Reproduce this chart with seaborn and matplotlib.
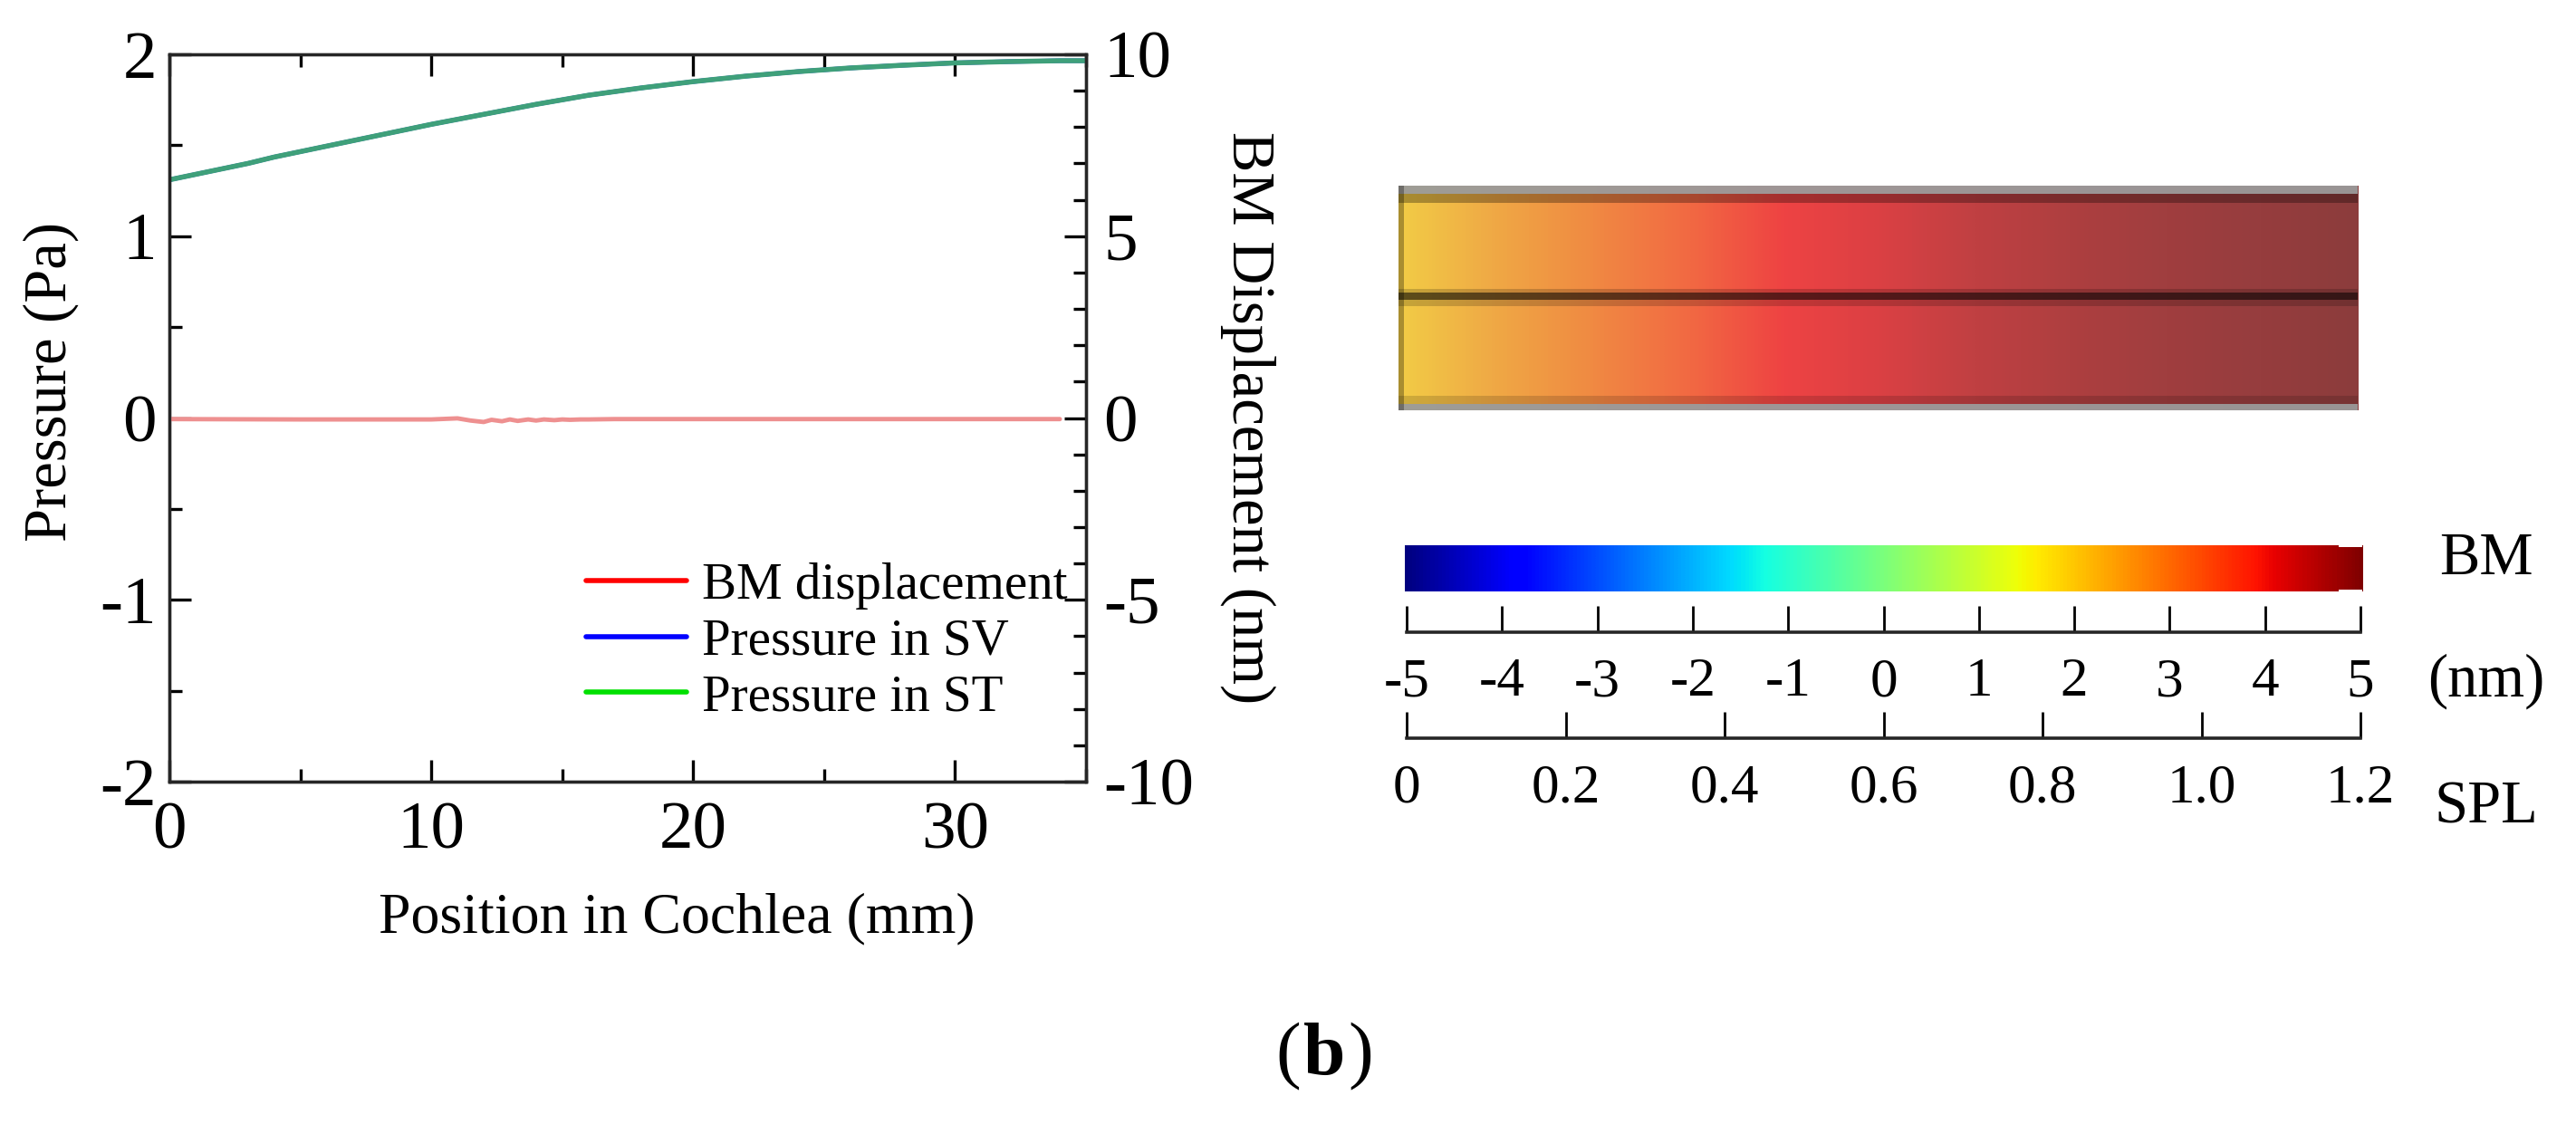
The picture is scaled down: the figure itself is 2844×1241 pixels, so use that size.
import seaborn as sns
import pandas as pd
import matplotlib.pyplot as plt
from matplotlib.colors import LinearSegmentedColormap
from matplotlib.lines import Line2D
from matplotlib.ticker import MultipleLocator

W, H = 2844, 1241

# pressure curves
position_mm = [0, 1, 2, 3, 4, 5, 6, 7, 8, 9, 10, 12, 14, 16, 18, 20, 22, 24, 26, 28, 30, 32, 34, 35]
pressure_sv = [1.31, 1.34, 1.37, 1.40, 1.435, 1.465, 1.495, 1.525, 1.555, 1.585, 1.615, 1.67, 1.725, 1.775, 1.815, 1.85, 1.88, 1.905, 1.925, 1.94, 1.953, 1.96, 1.965, 1.965]
pressure_st = [1.31, 1.34, 1.37, 1.40, 1.435, 1.465, 1.495, 1.525, 1.555, 1.585, 1.615, 1.67, 1.725, 1.775, 1.815, 1.85, 1.88, 1.905, 1.925, 1.94, 1.953, 1.96, 1.965, 1.965]

# BM displacement, flat apart from a small ripple after 11 mm
bm_pos = [0, 5, 10, 11, 11.5, 12, 12.3, 12.7, 13, 13.3, 13.7, 14, 14.3, 14.7, 15, 15.3, 15.7, 16, 17, 20, 30, 34]
bm_disp = [-0.03, -0.04, -0.04, -0.01, -0.07, -0.11, -0.05, -0.09, -0.04, -0.08, -0.04, -0.07, -0.04, -0.06, -0.04, -0.05, -0.04, -0.04, -0.03, -0.03, -0.03, -0.03]

# colour panel along the cochlea, one level per tenth of its length
panel_levels = [0, 0.1, 0.2, 0.3, 0.4, 0.5, 0.6, 0.7, 0.8, 0.9, 1.0]
panel_colors = ['#F2CC45', '#EFA845', '#F08A42', '#F26A42', '#EE4343', '#DB4044', '#C04042', '#AE3F40', '#A03E3F', '#963D3E', '#8C3C3C']

# scale bars
bm_ticks = [-5, -4, -3, -2, -1, 0, 1, 2, 3, 4, 5]
spl_ticks = [0, 0.2, 0.4, 0.6, 0.8, 1.0, 1.2]
spl_labels = ['0', '0.2', '0.4', '0.6', '0.8', '1.0', '1.2']


def box(x0, y0, x1, y1):
    # pixel box (top-left origin) to figure fractions
    return [x0 / W, 1 - y1 / H, (x1 - x0) / W, (y1 - y0) / H]


sns.set_theme(style='white')
plt.rcParams['font.family'] = ['Liberation Serif', 'DejaVu Serif']
plt.rcParams['axes.linewidth'] = 2.4
plt.rcParams['text.color'] = 'black'
plt.rcParams['axes.labelcolor'] = 'black'
plt.rcParams['xtick.color'] = 'black'
plt.rcParams['ytick.color'] = 'black'

fig = plt.figure(figsize=(W / 100, H / 100), dpi=100, facecolor='white')

# left plot
ax = fig.add_axes(box(187, 60, 1199, 863))
df_sv = pd.DataFrame({'x': position_mm, 'y': pressure_sv})
df_st = pd.DataFrame({'x': position_mm, 'y': pressure_st})
sns.lineplot(data=df_sv, x='x', y='y', color='#0000ff', lw=3.5, ax=ax, errorbar=None)
sns.lineplot(data=df_st, x='x', y='y', color='#3FA07A', lw=4, ax=ax, errorbar=None)
ax.set_xlim(0, 35)
ax.set_ylim(-2, 2)
ax.set_xlabel('Position in Cochlea (mm)', fontsize=46)
ax.set_ylabel('Pressure (Pa)', fontsize=48)
ax.xaxis.set_label_coords(0.554, -0.153)
ax.yaxis.set_label_coords(-0.099, 0.55)
ax.xaxis.set_major_locator(MultipleLocator(10))
ax.xaxis.set_minor_locator(MultipleLocator(5))
ax.set_yticks([-2, -1, 0, 1, 2])
ax.set_yticklabels(['-2', '-1', '0', '1', '2'])
ax.yaxis.set_minor_locator(MultipleLocator(0.5))
ax.tick_params(which='major', direction='in', length=17, width=2.4, top=True, bottom=True, left=True, labelsize=54)
ax.tick_params(which='minor', direction='in', length=10, width=2.4, top=True, bottom=True, left=True)
ax.tick_params(axis='x', which='major', pad=16)
ax.tick_params(axis='y', which='major', pad=10)

ax2 = ax.twinx()
df_bm = pd.DataFrame({'x': bm_pos, 'y': bm_disp})
sns.lineplot(data=df_bm, x='x', y='y', color='#EE9090', lw=3.5, ax=ax2, errorbar=None)
ax2.set_xlim(0, 35)
ax2.set_ylim(-10, 10)
ax2.set_yticks([-10, -5, 0, 5, 10])
ax2.set_yticklabels(['-10', '-5', '0', '5', '10'])
ax2.yaxis.set_minor_locator(MultipleLocator(1))
ax2.set_ylabel('BM Displacement (nm)', fontsize=48, rotation=270, va='bottom')
ax2.yaxis.set_label_coords(1.146, 0.5)
ax2.tick_params(which='major', direction='in', length=17, width=2.4, right=True, labelsize=54, pad=14)
ax2.tick_params(which='minor', direction='in', length=10, width=2.4, right=True)

handles = [Line2D([], [], color='#ff0000', lw=4),
           Line2D([], [], color='#0000ff', lw=4),
           Line2D([], [], color='#00e000', lw=4)]
ax2.legend(handles, ['BM displacement', 'Pressure in SV', 'Pressure in ST'],
           loc='lower right', bbox_to_anchor=(0.98, 0.083), frameon=False, fontsize=41,
           handlelength=1.95, handletextpad=0.3, labelspacing=0.17, borderpad=0, borderaxespad=0)

# colour panel
panel_cmap = LinearSegmentedColormap.from_list('panel', panel_colors)
ax_panel = fig.add_axes(box(1544, 205, 2603, 453))
ax_panel.imshow([panel_levels], cmap=panel_cmap, aspect='auto', interpolation='bilinear',
                extent=(-0.05, 1.05, 0, 1), vmin=0, vmax=1)
ax_panel.set_xlim(0, 1)
ax_panel.axhspan(0.965, 1, color='#9a9a9a', alpha=0.95, lw=0)
ax_panel.axhspan(0.925, 0.965, color='black', alpha=0.3, lw=0)
ax_panel.axhspan(0.0, 0.03, color='#9a9a9a', alpha=0.95, lw=0)
ax_panel.axhspan(0.03, 0.065, color='black', alpha=0.15, lw=0)
ax_panel.axhspan(0.49, 0.525, color='black', alpha=0.62, lw=0)
ax_panel.axhspan(0.465, 0.49, color='black', alpha=0.18, lw=0)
ax_panel.axhspan(0.525, 0.54, color='black', alpha=0.18, lw=0)
ax_panel.axvspan(0, 0.006, color='black', alpha=0.3, lw=0)
ax_panel.axis('off')

# jet scale, the last stretch sits a little narrower in the reference
ax_bar = fig.add_axes(box(1551, 602, 2608, 653))
ax_bar.imshow([bm_ticks], cmap='jet', aspect='auto', interpolation='bilinear',
              extent=(-5.5, 5.5, 0, 1), vmin=-5, vmax=5)
ax_bar.set_xlim(-5, 5)
ax_bar.axhspan(0.96, 1, xmin=0.975, color='white', lw=0)
ax_bar.axhspan(0, 0.03, xmin=0.975, color='white', lw=0)
ax_bar.axis('off')

# rulers under the scale
ax_nm = fig.add_axes(box(1553, 697, 2606, 698))
ax_spl = fig.add_axes(box(1553, 814, 2606, 815))
for a, ticks, labels, lim in [(ax_nm, bm_ticks, [str(t) for t in bm_ticks], (-5, 5)),
                              (ax_spl, spl_ticks, spl_labels, (0, 1.2))]:
    a.set_xlim(lim)
    a.set_xticks(ticks)
    a.set_xticklabels(labels)
    a.set_yticks([])
    for s in ['top', 'left', 'right']:
        a.spines[s].set_visible(False)
    a.spines['bottom'].set_linewidth(2.6)
    a.tick_params(axis='x', direction='in', bottom=True, length=21, width=2, labelsize=44, pad=20)

fig.text(2745 / W, 1 - 618 / H, 'BM', fontsize=48, ha='center', va='center')
fig.text(2745 / W, 1 - 752 / H, '(nm)', fontsize=48, ha='center', va='center')
fig.text(2745 / W, 1 - 892 / H, 'SPL', fontsize=48, ha='center', va='center')

fig.text(1408 / W, 1 - 1186 / H, '(', fontsize=60, ha='left', va='baseline')
fig.text(1439 / W, 1 - 1186 / H, 'b', fontsize=60, fontweight='bold', ha='left', va='baseline')
fig.text(1488 / W, 1 - 1186 / H, ')', fontsize=60, ha='left', va='baseline')

fig.savefig('out.png', dpi=100)
